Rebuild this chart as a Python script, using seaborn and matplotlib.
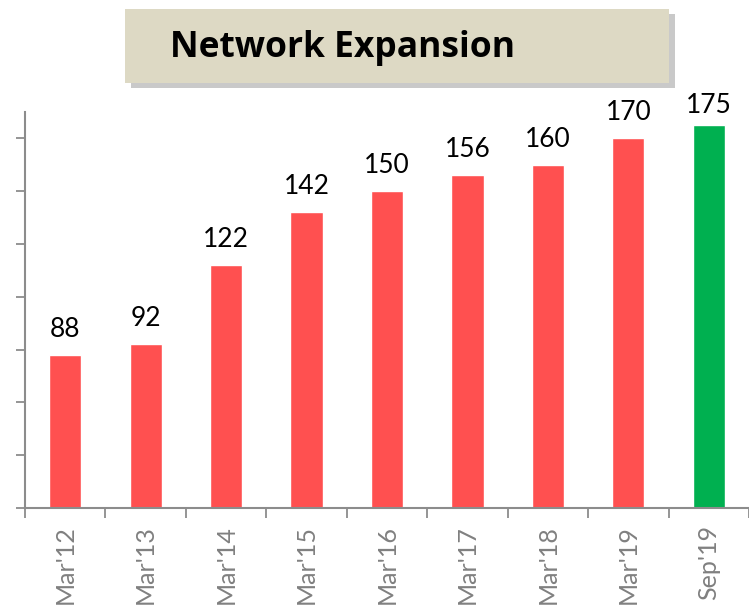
import matplotlib
matplotlib.use("Agg")
import matplotlib.pyplot as plt
import seaborn as sns
import pandas as pd
from matplotlib.patches import Rectangle

categories = ["Mar'12", "Mar'13", "Mar'14", "Mar'15", "Mar'16", "Mar'17", "Mar'18", "Mar'19", "Sep'19"]
values = [88, 92, 122, 142, 150, 156, 160, 170, 175]
title = "Network Expansion"

RED = "#FF5050"
GREEN = "#00B050"
bar_colors = [RED] * (len(categories) - 1) + [GREEN]

sns.set_style("white")
plt.rcParams['font.family'] = ['Lato', 'DejaVu Sans']

W, H = 749, 611
fig = plt.figure(figsize=(W / 100, H / 100), dpi=100)

# title box with shadow
fig.patches.append(Rectangle((131 / W, 1 - 88 / H), 544 / W, 74 / H, transform=fig.transFigure,
                             facecolor="#C9C9C9", edgecolor="none", zorder=0))
fig.patches.append(Rectangle((125 / W, 1 - 83 / H), 544 / W, 74 / H, transform=fig.transFigure,
                             facecolor="#DDD9C4", edgecolor="none", zorder=1))
fig.text(170 / W, 1 - 57 / H, title, fontsize=25.5, fontweight="bold", color="black",
         ha="left", va="baseline", zorder=2, family=["Open Sans", "DejaVu Sans"])

ax = fig.add_axes([25 / W, 103 / H, 724 / W, 396 / H])

df = pd.DataFrame({"cat": categories, "val": values})
sns.barplot(data=df, x="cat", y="val", hue="cat", palette=bar_colors, width=0.4,
            legend=False, ax=ax, saturation=1)

ax.set_ylim(30, 180)
ax.set_xlim(-0.5, -0.5 + 724 / 81.6)
ax.set_yticks(range(30, 171, 20))
ax.set_yticklabels([])
ax.set_xlabel("")
ax.set_ylabel("")

ax.set_xticks(range(len(categories)))
ax.set_xticklabels(categories, rotation=90, fontsize=18, color="#808080", fontweight="normal",
                   va="top")
ax.set_xticks([i - 0.5 for i in range(len(categories) + 1)], minor=True)
ax.tick_params(axis="x", which="major", length=0, pad=12, bottom=True)
ax.tick_params(axis="x", which="minor", length=7, width=1.3, color="#8C8C8C", direction="out",
               bottom=True)
ax.tick_params(axis="y", which="major", length=6.5, width=1.3, color="#8C8C8C", direction="out", left=True)

for s in ["top", "right"]:
    ax.spines[s].set_visible(False)
for s in ["left", "bottom"]:
    ax.spines[s].set_color("#8C8C8C")
    ax.spines[s].set_linewidth(1.5)

for i, v in enumerate(values):
    off = 5 if i == len(values) - 1 else 9.5
    ax.annotate(str(v), (i, v), xytext=(0, off), textcoords="offset points",
                ha="center", va="bottom", fontsize=19, color="black", annotation_clip=False)

fig.savefig("out.png", dpi=100)
